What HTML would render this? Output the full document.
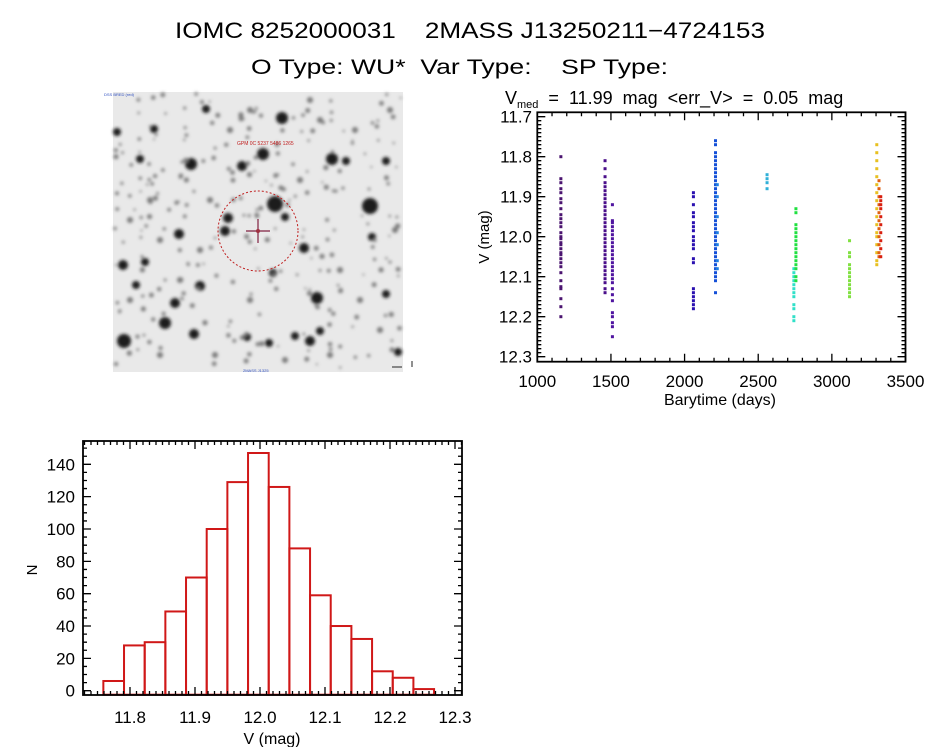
<!DOCTYPE html>
<html><head><meta charset="utf-8"><style>
html,body{margin:0;padding:0;background:#fff;}
svg{display:block;font-family:"Liberation Sans",sans-serif;}
text{white-space:pre;}
</style></head><body>
<svg id="root" width="944" height="747" viewBox="0 0 944 747" xmlns="http://www.w3.org/2000/svg" xml:space="preserve">
<text x="175" y="38" font-size="22" textLength="590" lengthAdjust="spacingAndGlyphs">IOMC 8252000031    2MASS J13250211−4724153</text>
<text x="251" y="74" font-size="21" textLength="417" lengthAdjust="spacingAndGlyphs">O Type: WU*  Var Type:    SP Type:</text>
<g id="img"></g>
<g id="lc"></g>
<g id="hist"></g>
</svg>
<script>
// ---- light curve data ----
const lcTimes = [1160,1460,1510,2060,2210,2222,2560,2742,2756,3120,3305,3320,3332];
const lcColors = ['#4b1470','#4a0f8a','#4f14a0','#2a10b0','#1450d8','#2080e0','#30b0d8','#30e0c8','#20e040','#80e040','#e8c020','#e06010','#d82010'];
const lcMags = [
 [11.80,11.855,11.865,11.88,11.89,11.905,11.915,11.93,11.945,11.955,11.965,11.975,11.99,12.0,12.005,12.015,12.02,12.03,12.04,12.045,12.055,12.065,12.075,12.09,12.11,12.125,12.13,12.155,12.175,12.2],
 [11.81,11.83,11.85,11.865,11.875,11.885,11.895,11.905,11.915,11.925,11.935,11.945,11.955,11.965,11.975,11.985,11.995,12.005,12.015,12.025,12.035,12.045,12.055,12.065,12.075,12.085,12.095,12.105,12.115,12.13,12.14],
 [11.92,11.96,11.965,11.975,11.985,11.995,12.005,12.015,12.025,12.035,12.045,12.055,12.065,12.075,12.085,12.095,12.105,12.115,12.13,12.145,12.16,12.19,12.2,12.215,12.225,12.25],
 [11.89,11.9,11.92,11.94,11.95,11.965,11.975,11.985,12.0,12.01,12.02,12.03,12.055,12.065,12.13,12.14,12.15,12.16,12.17,12.18],
 [11.76,11.77,11.79,11.80,11.81,11.82,11.83,11.84,11.85,11.86,11.87,11.88,11.89,11.90,11.91,11.92,11.93,11.94,11.95,11.96,11.97,11.98,11.99,12.0,12.01,12.02,12.03,12.04,12.05,12.06,12.07,12.08,12.09,12.10,12.11,12.14],
 [11.87,11.9,11.95,11.99,12.02,12.06,12.08],
 [11.845,11.855,11.865,11.88],
 [12.08,12.09,12.10,12.11,12.12,12.13,12.14,12.15,12.17,12.18,12.2,12.21],
 [11.93,11.94,11.97,11.98,11.99,12.0,12.01,12.02,12.03,12.04,12.05,12.06,12.07,12.08,12.1,12.11],
 [12.01,12.04,12.05,12.07,12.08,12.09,12.10,12.11,12.12,12.13,12.14,12.15],
 [11.77,11.79,11.81,11.83,11.85,11.87,11.89,11.91,11.93,11.95,11.97,11.99,12.0,12.02,12.04,12.06,12.07],
 [11.86,11.88,11.9,11.92,11.94,11.96,11.98,12.0,12.02,12.04,12.05],
 [11.9,11.91,11.92,11.93,11.95,11.97,11.99,12.01,12.03,12.05]
];
const lcXTicks = [1000,1500,2000,2500,3000,3500];
const lcYTicks = [11.7,11.8,11.9,12.0,12.1,12.2,12.3];
// ---- histogram data ----
const histStart = 11.759;
const histBinWidth = 0.0318;
const histCounts = [6,28,30,49,70,100,129,147,126,88,59,40,32,12,8,1];
const histXTicks = [11.8,11.9,12.0,12.1,12.2,12.3];
const histYTicks = [0,20,40,60,80,100,120,140];

const NS='http://www.w3.org/2000/svg';
function mk(tag,attrs,parent){const e=document.createElementNS(NS,tag);for(const k in attrs)e.setAttribute(k,attrs[k]);parent.appendChild(e);return e;}

// ---- sky image ----
(function(){
 const g=document.getElementById('img');
 const defs=mk('defs',{},g);
 const f=mk('filter',{id:'blur'},defs);mk('feGaussianBlur',{stdDeviation:'1.6'},f);
 const bg=mk('rect',{x:113,y:92,width:290,height:280,fill:'#e9e9e9'},g);
 
 
 const stars=[[282,118,6],[263,154,6],[191,164,6],[242,166,5],[332,159,6],[346,161,4],[386,161,4],[154,129,4],[206,109,4],[275,204,8],[370,206,8],[228,218,5],[225,231,5],[179,234,5],[285,217,4],[304,248,5],[273,273,4],[123,265,5],[145,262,4],[136,285,4],[200,286,5],[175,303,5],[317,298,6],[165,323,6],[124,341,7],[194,334,5],[310,341,5],[295,336,4],[320,331,4],[247,337,4],[386,294,4],[372,237,4],[117,132,4],[140,159,4],[269,343,4],[398,352,4],[150,200,3],[160,240,3],[210,200,3],[300,180,3],[320,120,3],[355,130,3],[130,300,3],[250,300,3],[340,270,3],[360,300,3],[230,130,3],[180,280,3],[130,220,3],[395,230,3],[380,330,3],[215,355,3],[285,360,3],[330,355,3],[160,355,3],[200,250,3],[250,110,3],[310,100,3],[390,110,3]];
 let s=7;function rnd(){s=(s*9301+49297)%233280;return s/233280;}
 for(let i=0;i<260;i++)stars.push([115+rnd()*286,94+rnd()*276,1.0+rnd()*1.6]);
 const sg=mk('g',{filter:'url(#blur)'},g);
 stars.forEach(st=>{mk('circle',{cx:st[0],cy:st[1],r:st[2],fill:st[2]>3?'#1a1a1a':'#777'},sg);});
 const c=mk('circle',{cx:258,cy:231,r:40,fill:'none',stroke:'#c02020','stroke-width':1,'stroke-dasharray':'2 2'},g);
 
 
 mk('path',{d:'M246 231H270M258 219V243',stroke:'#802040','stroke-width':1.2},g);
 mk('circle',{cx:258,cy:231,r:2,fill:'#a03040'},g);
 const t=mk('text',{x:237,y:145,'font-size':5,fill:'#c02020'},g);t.textContent='GPM 0C 5237 5486 1265';
 const t2=mk('text',{x:104,y:96,'font-size':4,fill:'#3050c0'},g);t2.textContent='DSS BRED (red)';
 const t3=mk('text',{x:243,y:372,'font-size':4,fill:'#3050c0'},g);t3.textContent='2MASS J1325';
 mk('path',{d:'M392 367H402M412 361V367',stroke:'#222','stroke-width':1},g);
})();

// ---- light curve ----
(function(){
 const g=document.getElementById('lc');
 const L=537.3,R=905.5,T=112.3,B=361.7;
 const x=v=>L+(v-1000)/2500*(R-L);
 const y=v=>116.7+(v-11.7)/0.6*240;
 const pts=mk('g',{},g);
 
 
 lcMags.forEach((arr,gi)=>{arr.forEach(m=>{
  const r=mk('rect',{x:x(lcTimes[gi])-1.5,y:y(m)-1.5,width:3,height:3,fill:lcColors[gi]},pts);
  
  
 });});
 const fr=mk('rect',{x:L,y:T,width:R-L,height:B-T,fill:'none',stroke:'#000','stroke-width':1.8},g);
 
 
 let d='';
 for(let v=1000;v<=3500;v+=100){const px=x(v);const len=(v%500===0)?8:4;d+=`M${px} ${B}v${-len}M${px} ${T}v${len}`;}
 for(let k=0;k<=60;k++){const v=11.7+k*0.01;const py=y(v);if(py<T||py>B)continue;const len=(k%10===0)?8:4;d+=`M${L} ${py}h${len}M${R} ${py}h${-len}`;}
 mk('path',{d:d,stroke:'#000','stroke-width':1.3},g);
 lcXTicks.forEach(v=>{const t=mk('text',{x:x(v),y:387,'font-size':17,'text-anchor':'middle'},g);t.textContent=v;
  });
 lcYTicks.forEach(v=>{const t=mk('text',{x:532,y:y(v)+6,'font-size':17,'text-anchor':'end'},g);t.textContent=v.toFixed(1);
  });
 const xt=mk('text',{x:720,y:405,'font-size':16,'text-anchor':'middle'},g);xt.textContent='Barytime (days)';
 
 const yt=mk('text',{x:0,y:0,'font-size':15,'text-anchor':'middle',transform:'translate(489,237) rotate(-90)'},g);yt.textContent='V (mag)';
 
 const tt=mk('text',{x:505,y:104,'font-size':18},g);
 
 tt.innerHTML='V<tspan font-size="11" dy="4">med</tspan><tspan dy="-4">  =  11.99  mag  &lt;err_V&gt;  =  0.05  mag</tspan>';
})();

// ---- histogram ----
(function(){
 const g=document.getElementById('hist');
 const L=83,R=462,T=441,B=695;
 const x=v=>130+(v-11.8)/0.1*65;
 const y=v=>690.7-v*1.617;
 const bars=mk('g',{},g);
 histCounts.forEach((c,i)=>{
  const x0=x(histStart+i*histBinWidth),x1=x(histStart+(i+1)*histBinWidth);
  const r=mk('rect',{x:x0,y:y(c),width:x1-x0,height:y(0)-y(c)+4,fill:'none',stroke:'#d01818','stroke-width':2},bars);
  
  
 });
 const fr=mk('rect',{x:L,y:T,width:R-L,height:B-T,fill:'none',stroke:'#000','stroke-width':1.8},g);
 
 
 let d='';
 for(let k=-7;k<=51;k++){const v=11.8+k*0.01;const px=x(v);if(px<L||px>R)continue;const len=(k%10===0)?8:4;d+=`M${px} ${B}v${-len}M${px} ${T}v${len}`;}
 for(let v=0;v<=150;v+=5){const py=y(v);if(py<T)continue;const len=(v%20===0)?8:4;d+=`M${L} ${py}h${len}M${R} ${py}h${-len}`;}
 mk('path',{d:d,stroke:'#000','stroke-width':1.3},g);
 histXTicks.forEach(v=>{const t=mk('text',{x:x(v),y:723,'font-size':17,'text-anchor':'middle'},g);t.textContent=v.toFixed(1);
  });
 histYTicks.forEach(v=>{const t=mk('text',{x:75,y:y(v)+6,'font-size':17,'text-anchor':'end'},g);t.textContent=v;
  });
 const xt=mk('text',{x:272,y:744,'font-size':16,'text-anchor':'middle'},g);xt.textContent='V (mag)';
 
 const yt=mk('text',{x:0,y:0,'font-size':15,'text-anchor':'middle',transform:'translate(37,570) rotate(-90)'},g);yt.textContent='N';
 
})();
</script>
</body></html>
